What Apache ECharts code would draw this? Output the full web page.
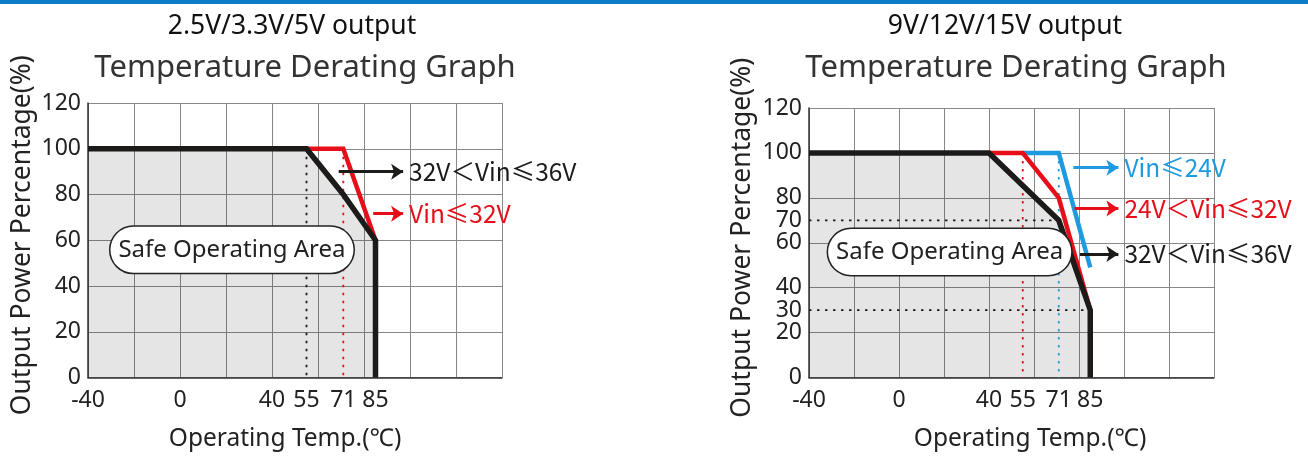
<!DOCTYPE html>
<html><head><meta charset="utf-8">
<script src="https://cdn.jsdelivr.net/npm/echarts@6/dist/echarts.min.js"></script>
<style>html,body{margin:0;padding:0;background:#fff}#c{width:1308px;height:456px}</style>
</head><body><div id="c"></div>
<script>
const FONT = '"Noto Sans","Noto Sans CJK SC",sans-serif';
const CJK = '"Noto Sans CJK SC","Noto Sans",sans-serif';

// ---- Left chart: 2.5V/3.3V/5V output ----
const leftXTicks = [-40, 0, 40, 55, 71, 85];
const leftYTicks = [0, 20, 40, 60, 80, 100, 120];
const leftHighVin = [[-40, 100], [55, 100], [71, 80], [85, 60], [85, 0]];   // 32V<Vin≤36V
const leftLowVin  = [[55, 100], [71, 100], [85, 60]];                       // Vin≤32V
const leftGuide55 = [[55, 100], [55, 0]];
const leftGuide71 = [[71, 100], [71, 0]];

// ---- Right chart: 9V/12V/15V output ----
const rightXTicks = [-40, 0, 40, 55, 71, 85];
const rightYTicks = [0, 20, 30, 40, 60, 70, 80, 100, 120];
const rightHighVin = [[-40, 100], [40, 100], [71, 70], [85, 30], [85, 0]];  // 32V<Vin≤36V
const rightMidVin  = [[40, 100], [55, 100], [71, 80], [85, 30]];            // 24V<Vin≤32V
const rightLowVin  = [[55, 100], [71, 100], [85, 49]];                      // Vin≤24V
const rightGuide70 = [[-40, 70], [71, 70]];
const rightGuide30 = [[-40, 30], [85, 30]];
const rightGuide55 = [[55, 100], [55, 0]];
const rightGuide71 = [[71, 100], [71, 0]];

const BLACK = '#1d1a1a', RED = '#e60e19', BLUE = '#1e9be0';

// annotation anchors (data space)
const ann = {
  leftBox: [22.6, 55.8],
  rightBox: [22.5, 55.9],
  leftArrows: [
    {from: [69, 90], to: [97, 90], text: '32V＜Vin≤36V', color: BLACK},
    {from: [84, 71.6], to: [97, 71.6], text: 'Vin≤32V', color: RED}
  ],
  rightArrows: [
    {from: [77.5, 93.4], to: [97.5, 93.4], text: 'Vin≤24V', color: BLUE},
    {from: [78, 75.3], to: [97.5, 75.3], text: '24V＜Vin≤32V', color: RED},
    {from: [80.4, 55], to: [97.5, 55], text: '32V＜Vin≤36V', color: BLACK}
  ]
};

function xAxis(gi, ticks, pad) {
  return {
    type: 'value', gridIndex: gi, min: -40, max: 140, interval: 20,
    name: 'Operating Temp.(℃)', nameLocation: 'middle', nameGap: 49,
    nameTextStyle: {fontFamily: FONT, fontSize: 24.5, color: '#222', padding: pad},
    axisLine: {show: true, onZero: false, lineStyle: {color: '#333', width: 1.5}},
    axisTick: {show: false},
    axisLabel: {customValues: ticks, margin: 11, fontFamily: FONT, fontSize: 23, color: '#222'},
    splitLine: {show: true, lineStyle: {color: '#888', width: 1}}
  };
}
function yAxis(gi, ticks, gap) {
  return {
    type: 'value', gridIndex: gi, min: 0, max: 120, interval: 20,
    name: 'Output Power Percentage(%)', nameLocation: 'middle', nameGap: gap,
    nameTextStyle: {fontFamily: FONT, fontSize: 26.5, color: '#222', padding: [0, 0, 0, 10]},
    axisLine: {show: true, onZero: false, lineStyle: {color: '#333', width: 1.5}},
    axisTick: {show: false},
    axisLabel: {customValues: ticks, margin: 7, fontFamily: FONT, fontSize: 23, color: '#222'},
    splitLine: {show: true, lineStyle: {color: '#888', width: 1}}
  };
}
function curve(gi, data, color, width, z) {
  return {type: 'line', xAxisIndex: gi, yAxisIndex: gi, data, symbol: 'none', z,
    lineStyle: {color, width, join: 'miter'}, silent: true};
}
function area(gi, data) {
  return {type: 'line', xAxisIndex: gi, yAxisIndex: gi, data, symbol: 'none', z: 1,
    lineStyle: {width: 0}, areaStyle: {color: 'rgba(0,0,0,0.145)', origin: 'start'}, silent: true};
}
function guide(gi, data, color) {
  return {type: 'line', xAxisIndex: gi, yAxisIndex: gi, data, symbol: 'none', z: 2,
    lineStyle: {color, width: 1.8, type: [2.5, 5.5]}, silent: true};
}
function arrows(gi, list) {
  return list.map(a => ({
    type: 'line', xAxisIndex: gi, yAxisIndex: gi, data: [], z: 5, silent: true,
    markLine: {silent: true, symbol: ['none', 'arrow'], symbolSize: 12, animation: false,
      lineStyle: {color: a.color, width: 3, type: 'solid'},
      label: {show: true, position: 'end', distance: 6, formatter: a.text, color: a.color,
        fontFamily: CJK, fontSize: 24.5},
      data: [[{coord: a.from}, {coord: a.to}]]}
  }));
}

const chart = echarts.init(document.getElementById('c'), null, {renderer: 'canvas'});
chart.setOption({
  animation: false,
  backgroundColor: '#fff',
  grid: [
    {left: 88, top: 103, width: 414, height: 275},
    {left: 809, top: 108, width: 405, height: 271}
  ],
  xAxis: [xAxis(0, leftXTicks, [0, 20, 0, 0]), xAxis(1, rightXTicks, [0, 0, 0, 37])],
  yAxis: [yAxis(0, leftYTicks, 52), yAxis(1, rightYTicks, 53)],
  series: [
    area(0, leftHighVin),
    guide(0, leftGuide55, BLACK),
    guide(0, leftGuide71, RED),
    curve(0, leftLowVin, RED, 4.5, 3),
    curve(0, leftHighVin, BLACK, 5.5, 4),
    ...arrows(0, ann.leftArrows),

    area(1, rightHighVin),
    guide(1, rightGuide70, BLACK),
    guide(1, rightGuide30, BLACK),
    guide(1, rightGuide55, RED),
    guide(1, rightGuide71, BLUE),
    curve(1, rightLowVin, BLUE, 4.5, 3),
    curve(1, rightMidVin, RED, 4.5, 3),
    curve(1, rightHighVin, BLACK, 5.5, 4),
    ...arrows(1, ann.rightArrows)
  ]
});

// "Safe Operating Area" boxes, placed through the axes
function boxAt(id, gi, pos) {
  const p = chart.convertToPixel({gridIndex: gi}, pos);
  return {id, type: 'text', x: p[0], y: p[1], z: 100,
    style: {text: 'Safe Operating Area', font: '24px ' + FONT, fill: '#222',
      align: 'center', verticalAlign: 'middle', backgroundColor: '#fff',
      borderColor: '#222', borderWidth: 1.5, borderRadius: 23, padding: [9, 8, 9, 8], lineHeight: 28}};
}
chart.setOption({graphic: [
  {id: 'bar', type: 'rect', left: 0, top: 0, shape: {width: 1308, height: 4}, style: {fill: '#0a7cc6'}},
  {id: 't1', type: 'text', x: 292, y: 26, style: {text: '2.5V/3.3V/5V output', font: '26.5px ' + FONT, fill: '#111', align: 'center', verticalAlign: 'middle'}},
  {id: 't2', type: 'text', x: 305, y: 68, style: {text: 'Temperature Derating Graph', font: '31px ' + FONT, fill: '#333', align: 'center', verticalAlign: 'middle'}},
  {id: 't3', type: 'text', x: 1005, y: 26, style: {text: '9V/12V/15V output', font: '26.5px ' + FONT, fill: '#111', align: 'center', verticalAlign: 'middle'}},
  {id: 't4', type: 'text', x: 1016, y: 68, style: {text: 'Temperature Derating Graph', font: '31px ' + FONT, fill: '#333', align: 'center', verticalAlign: 'middle'}},
  boxAt('b1', 0, ann.leftBox),
  boxAt('b2', 1, ann.rightBox)
]});
</script></body></html>
